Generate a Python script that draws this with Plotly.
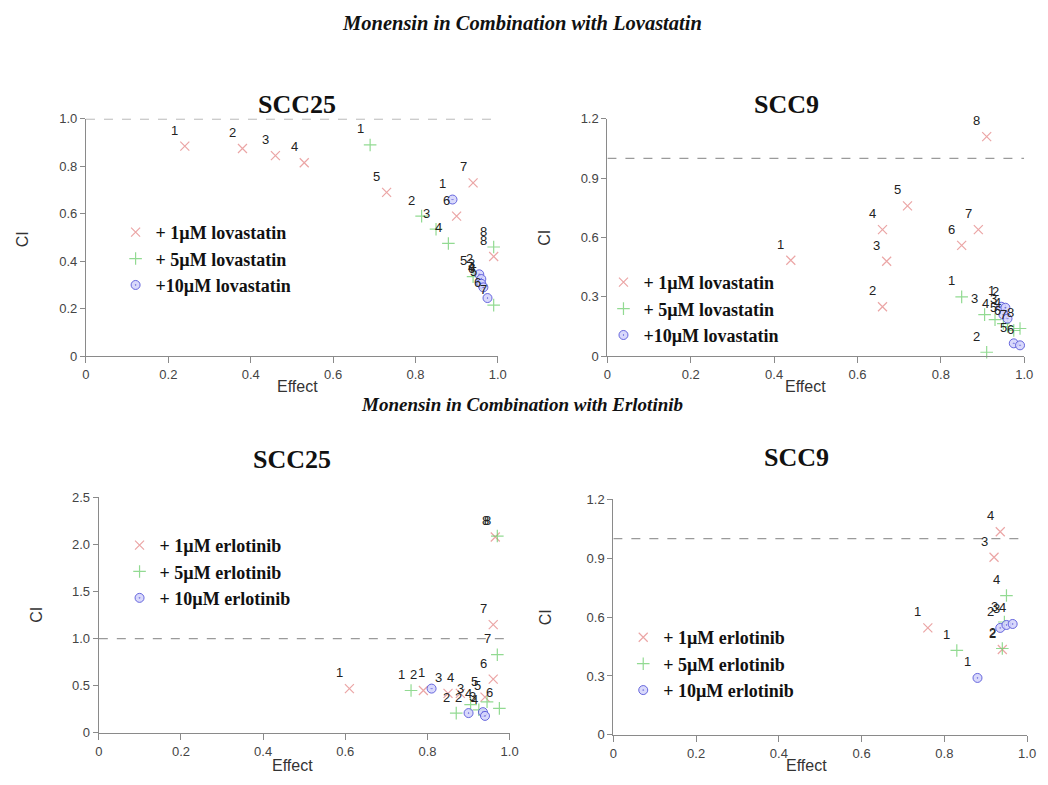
import plotly.graph_objects as go

W, H = 1048, 785

# ---------------- data: fraction affected (Effect) and CI ----------------
# Monensin + lovastatin, SCC25
lov25_1um_fa = [0.24, 0.38, 0.46, 0.53, 0.73, 0.90, 0.94, 0.99]
lov25_1um_ci = [0.885, 0.875, 0.845, 0.815, 0.69, 0.59, 0.73, 0.42]
lov25_5um_fa = [0.69, 0.815, 0.85, 0.88, 0.94, 0.96, 0.99, 0.99]
lov25_5um_ci = [0.89, 0.59, 0.535, 0.475, 0.335, 0.30, 0.215, 0.46]
lov25_10um_fa = [0.89, 0.955, 0.96, 0.96, 0.965, 0.975]
lov25_10um_ci = [0.66, 0.345, 0.325, 0.305, 0.29, 0.245]

# Monensin + lovastatin, SCC9
lov9_1um_fa = [0.44, 0.66, 0.67, 0.66, 0.72, 0.85, 0.89, 0.91]
lov9_1um_ci = [0.485, 0.25, 0.48, 0.64, 0.76, 0.56, 0.64, 1.11]
lov9_5um_fa = [0.85, 0.91, 0.905, 0.93, 0.95, 0.96, 0.975, 0.99]
lov9_5um_ci = [0.30, 0.02, 0.21, 0.185, 0.165, 0.15, 0.13, 0.14]
lov9_10um_fa = [0.945, 0.955, 0.95, 0.96, 0.975, 0.99]
lov9_10um_ci = [0.25, 0.245, 0.21, 0.19, 0.065, 0.055]

# Monensin + erlotinib, SCC25
erl25_1um_fa = [0.61, 0.79, 0.85, 0.88, 0.94, 0.96, 0.96, 0.965]
erl25_1um_ci = [0.47, 0.45, 0.42, 0.42, 0.38, 0.57, 1.15, 2.08]
erl25_5um_fa = [0.76, 0.87, 0.905, 0.925, 0.945, 0.975, 0.97, 0.97]
erl25_5um_ci = [0.45, 0.21, 0.30, 0.245, 0.33, 0.26, 0.83, 2.09]
erl25_10um_fa = [0.81, 0.90, 0.935, 0.94]
erl25_10um_ci = [0.47, 0.21, 0.22, 0.18]

# Monensin + erlotinib, SCC9
erl9_1um_fa = [0.76, 0.94, 0.92, 0.935]
erl9_1um_ci = [0.545, 0.435, 0.905, 1.035]
erl9_5um_fa = [0.83, 0.94, 0.945, 0.95]
erl9_5um_ci = [0.43, 0.44, 0.575, 0.71]
erl9_10um_fa = [0.88, 0.935, 0.95, 0.965]
erl9_10um_ci = [0.29, 0.545, 0.56, 0.565]

# series names
lov_names = ["+ 1\u00b5M lovastatin", "+ 5\u00b5M lovastatin", "+10\u00b5M lovastatin"]
erl_names = ["+ 1\u00b5M erlotinib", "+ 5\u00b5M erlotinib", "+ 10\u00b5M erlotinib"]

# tick labels
fa_ticks = [0, 0.2, 0.4, 0.6, 0.8, 1.0]
fa_ticktext = ["0", "0.2", "0.4", "0.6", "0.8", "1.0"]
ci_ticks_a = [0, 0.2, 0.4, 0.6, 0.8, 1.0]
ci_ticktext_a = ["0", "0.2", "0.4", "0.6", "0.8", "1.0"]
ci_ticks_b = [0, 0.3, 0.6, 0.9, 1.2]
ci_ticktext_b = ["0", "0.3", "0.6", "0.9", "1.2"]
ci_ticks_c = [0, 0.5, 1.0, 1.5, 2.0, 2.5]
ci_ticktext_c = ["0", "0.5", "1.0", "1.5", "2.0", "2.5"]

# ---------------- styling ----------------
SERIF = "Liberation Serif"
SANS = "Liberation Sans"
AXIS_GREY = "#8a8a8a"

dose_styles = [
    dict(symbol="x-thin", size=9, color="rgba(228,135,135,0.75)",
         line=dict(width=1.2, color="rgba(228,135,135,0.75)")),
    dict(symbol="cross-thin", size=9, color="rgba(110,205,110,0.75)",
         line=dict(width=1.2, color="rgba(110,205,110,0.75)")),
    dict(symbol="circle-dot", size=9, color="rgba(210,210,250,0.85)",
         line=dict(width=1, color="rgba(80,80,215,0.85)")),
]


def px(x):
    return x / W


def py(y):
    return 1 - y / H


# panel geometry (pixel box of each plotting area) and axis setup
panels = [
    dict(box=(83, 114, 500, 356), yr=1.0, yt=(ci_ticks_a, ci_ticktext_a),
         names=lov_names, legend_at=(113, 211),
         series=[(lov25_1um_fa, lov25_1um_ci), (lov25_5um_fa, lov25_5um_ci),
                 (lov25_10um_fa, lov25_10um_ci)]),
    dict(box=(611, 114, 1033, 356), yr=1.2, yt=(ci_ticks_b, ci_ticktext_b),
         names=lov_names, legend_at=(607, 262),
         series=[(lov9_1um_fa, lov9_1um_ci), (lov9_5um_fa, lov9_5um_ci),
                 (lov9_10um_fa, lov9_10um_ci)]),
    dict(box=(96, 500, 512, 740), yr=2.5, yt=(ci_ticks_c, ci_ticktext_c),
         names=erl_names, legend_at=(117, 530),
         series=[(erl25_1um_fa, erl25_1um_ci), (erl25_5um_fa, erl25_5um_ci),
                 (erl25_10um_fa, erl25_10um_ci)]),
    dict(box=(617, 502, 1036, 742), yr=1.2, yt=(ci_ticks_b, ci_ticktext_b),
         names=erl_names, legend_at=(627, 624),
         series=[(erl9_1um_fa, erl9_1um_ci), (erl9_5um_fa, erl9_5um_ci),
                 (erl9_10um_fa, erl9_10um_ci)]),
]

fig = go.Figure()
layout_axes = {}
annotations = []
shapes = []

for n, p in enumerate(panels, start=1):
    sfx = "" if n == 1 else str(n)
    xa, ya = "x" + sfx, "y" + sfx
    leg = "legend" + sfx
    x0, y0, x1, y1 = p["box"]

    layout_axes["xaxis" + sfx] = dict(
        domain=[px(x0), px(x1)], range=[0, 1.0], anchor=ya,
        tickvals=fa_ticks, ticktext=fa_ticktext,
        showline=True, linecolor=AXIS_GREY, linewidth=1.2,
        ticks="outside", ticklen=6, tickcolor=AXIS_GREY, tickwidth=1.2,
        showgrid=False, zeroline=False,
        tickfont=dict(family=SANS, size=13, color="#444"),
    )
    layout_axes["yaxis" + sfx] = dict(
        domain=[py(y1), py(y0)], range=[0, p["yr"]], anchor=xa,
        tickvals=p["yt"][0], ticktext=p["yt"][1],
        showline=True, linecolor=AXIS_GREY, linewidth=1.2,
        ticks="outside", ticklen=5, tickcolor=AXIS_GREY, tickwidth=1.2,
        showgrid=False, zeroline=False,
        tickfont=dict(family=SANS, size=13, color="#444"),
    )

    # CI = 1 reference (additivity)
    shapes.append(dict(type="line", xref=xa, yref=ya, x0=0, x1=1.0, y0=1.0, y1=1.0,
                       line=dict(color="#9a9a9a", width=1.2, dash="dash")))

    for k, ((fa, ci), name) in enumerate(zip(p["series"], p["names"])):
        fig.add_trace(go.Scatter(
            x=fa, y=ci, mode="markers", name=name, xaxis=xa, yaxis=ya,
            marker=dose_styles[k], cliponaxis=False, legend=leg,
            legendgroup=f"{n}-{k}",
        ))
        # point numbers next to each marker
        for i, (fx, cy) in enumerate(zip(fa, ci)):
            annotations.append(dict(
                x=fx, y=cy, xref=xa, yref=ya, text=str(i + 1), showarrow=False,
                xshift=-10, yshift=16,
                font=dict(family=SANS, size=13, color="#222"),
            ))

    lx, ly = p["legend_at"]
    layout_axes[leg] = dict(
        x=px(lx), y=py(ly), xanchor="left", yanchor="top",
        bgcolor="rgba(0,0,0,0)", tracegroupgap=0,
        font=dict(family=SERIF, size=18, color="#111", weight="bold"),
    )

# headings
headings = [
    ("Monensin in Combination with Lovastatin", 524, 16, 20.5, "italic"),
    ("Monensin in Combination with Erlotinib", 524, 405, 19, "italic"),
    ("SCC25", 297, 99, 26, "normal"),
    ("SCC9", 792, 99, 26, "normal"),
    ("SCC25", 292, 461, 26, "normal"),
    ("SCC9", 802, 459, 26, "normal"),
]
for text, hx, hy, size, style in headings:
    annotations.append(dict(
        x=px(hx), y=py(hy), xref="paper", yref="paper", text=text, showarrow=False,
        xanchor="center", yanchor="middle",
        font=dict(family=SERIF, size=size, color="#111", weight="bold", style=style),
    ))

# axis titles
for hx, hy in [(19, 237), (547, 235), (33, 620), (548, 622)]:
    annotations.append(dict(
        x=px(hx), y=py(hy), xref="paper", yref="paper", text="CI", showarrow=False,
        textangle=-90, xanchor="center", yanchor="middle",
        font=dict(family=SANS, size=16, color="#333"),
    ))
for hx, hy in [(297, 387), (812, 387), (292, 773), (813, 773)]:
    annotations.append(dict(
        x=px(hx), y=py(hy), xref="paper", yref="paper", text="Effect", showarrow=False,
        xanchor="center", yanchor="middle",
        font=dict(family=SANS, size=16, color="#333"),
    ))

fig.update_layout(
    width=W, height=H,
    margin=dict(l=0, r=0, t=0, b=0),
    paper_bgcolor="white", plot_bgcolor="white",
    showlegend=True,
    annotations=annotations,
    shapes=shapes,
    **layout_axes,
)

fig.write_html("out.html")
